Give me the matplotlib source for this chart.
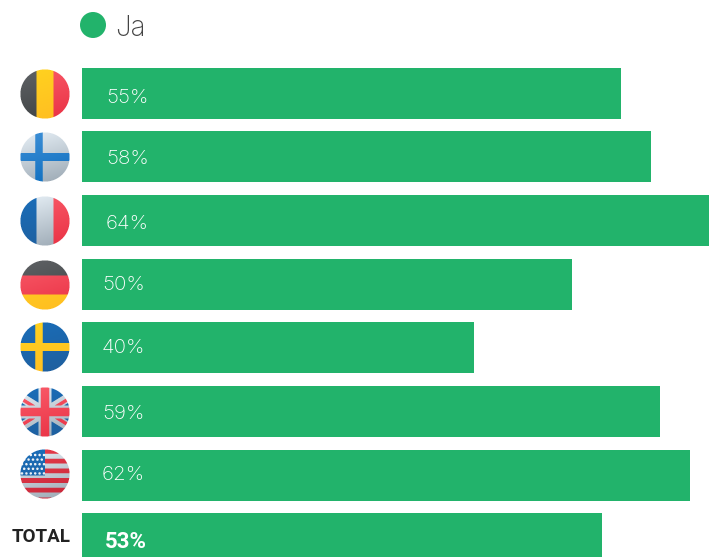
import matplotlib
matplotlib.use("Agg")
import matplotlib.pyplot as plt
import numpy as np
from matplotlib.patches import Circle

countries = ["BE", "FI", "FR", "DE", "SE", "UK", "US", "TOTAL"]
ja_share = [55, 58, 64, 50, 40, 59, 62, 53]
value_labels = ["55%", "58%", "64%", "50%", "40%", "59%", "62%", "53%"]
legend_label = "Ja"
total_label = "TOTAL"

W, H = 709, 557
GREEN = "#22b36b"
PX_PER_PCT = 9.805
BAR_LEFT = 82
row_tops = [68, 131, 195, 259, 322, 386, 450, 513]
label_x = [106, 106, 106, 102, 102, 102, 102, 105]
label_y = [96, 157, 222, 283, 346, 412, 473, 539]
flag_y = [94, 157, 221, 285, 347, 412, 474]
LABEL_FONT = "Inter"

fig = plt.figure(figsize=(W / 100, H / 100), dpi=100, facecolor="white")

# Bars live on value axes whose zero sits at the left edge of the bars.
ax = fig.add_axes([0, 0, 1, 1])
ax.set_xlim(-BAR_LEFT / PX_PER_PCT, (W - BAR_LEFT) / PX_PER_PCT)
ax.set_ylim(H, 0)
ax.axis("off")
for top, val in zip(row_tops, ja_share):
    ax.barh(top + 25.5, val, height=51, left=0, color=GREEN, linewidth=0)

# Overlay in pixel units for the labels, legend and round flags.
ov = fig.add_axes([0, 0, 1, 1], facecolor="none")
ov.axis("off")

for x, y, txt, cc in zip(label_x, label_y, value_labels, countries):
    if cc == "TOTAL":
        ov.text(x, y, txt, color="white", fontsize=16, va="center_baseline", ha="left",
                fontweight="bold", family="Roboto")
    else:
        ov.text(x, y, txt, color="white", fontsize=14.8, va="center_baseline", ha="left",
                fontweight="light", family=LABEL_FONT)

ov.add_patch(Circle((93, 25), 13, color=GREEN, lw=0))
ov.text(115, 25, legend_label, color="#444444", fontsize=20, va="center_baseline",
        ha="left", fontweight="light", family=LABEL_FONT)
ov.text(70.5, 537, total_label, color="#222222", fontsize=13.5, va="center",
        ha="right", fontweight="bold", family="Roboto")

# Flags are painted on a supersampled grid, each colour carrying its own
# top-to-bottom gradient, then reduced to one pixel per cell.
SS = 4
R = 25
grid = (np.arange(2 * R * SS) + 0.5) / SS - R
X, Y = np.meshgrid(grid, grid)
T = np.clip((0.85 * Y + 0.25 * X + R) / (2 * R), 0, 1)[..., None]

DARK = ("#5e6164", "#3f4244")
YELLOW = ("#ffd21f", "#ffbe22")
RED = ("#f95a68", "#ea3346")
DEEP_RED = ("#e63c4c", "#c9283a")
BLUE = ("#1a6db8", "#1f5f9e")
PALE = ("#e4edf4", "#9eabb6")
CROSS = ("#3d8fd6", "#0f6fc0")


def rgb(hexcode):
    return np.array(matplotlib.colors.to_rgb(hexcode))


def paint(img, mask, pair):
    grad = rgb(pair[0]) * (1 - T) + rgb(pair[1]) * T
    img[mask] = grad[mask]


def flag_be(img):
    paint(img, X < -8.5, DARK)
    paint(img, (X >= -8.5) & (X < 8.5), YELLOW)
    paint(img, X >= 8.5, RED)


def flag_fi(img):
    paint(img, np.ones_like(X, bool), PALE)
    paint(img, np.abs(Y) < 4, CROSS)
    paint(img, np.abs(X + 6) < 3.7, CROSS)


def flag_fr(img):
    paint(img, X < -8.5, BLUE)
    paint(img, (X >= -8.5) & (X < 8.5), PALE)
    paint(img, X >= 8.5, RED)


def flag_de(img):
    paint(img, Y < -9.5, DARK)
    paint(img, (Y >= -9.5) & (Y < 9.5), RED)
    paint(img, Y >= 9.5, YELLOW)


def flag_se(img):
    paint(img, np.ones_like(X, bool), BLUE)
    paint(img, np.abs(Y) < 4, YELLOW)
    paint(img, np.abs(X + 6) < 3.7, YELLOW)


def flag_uk(img):
    paint(img, np.ones_like(X, bool), BLUE)
    slope = 0.62
    for sign in (1, -1):
        dist = np.abs(Y - sign * slope * X) / np.hypot(1, slope)
        paint(img, dist < 4.5, PALE)
    for sign in (1, -1):
        offset = (Y - sign * slope * X) * np.sign(X) * sign
        paint(img, (offset > -3.5) & (offset < 0.5), RED)
    paint(img, (np.abs(Y) < 6.5) | (np.abs(X) < 6.5), PALE)
    paint(img, (np.abs(Y) < 4.3) | (np.abs(X) < 4.3), RED)


def flag_us(img):
    paint(img, np.ones_like(X, bool), PALE)
    stripes = ((Y + 25) % 9.7) < 4.8
    paint(img, stripes, DEEP_RED)
    canton = (X < 0) & (Y < 1.5)
    paint(img, canton, BLUE)
    for r in range(5):
        for c in range(6):
            sx = -23 + c * 4.4 + (r % 2) * 2.2
            sy = -19 + r * 4.6
            paint(img, canton & (np.hypot(X - sx, Y - sy) < 1.25), ("#f2f6fa", "#dfe6ec"))


painters = [flag_be, flag_fi, flag_fr, flag_de, flag_se, flag_uk, flag_us]
disc_alpha = (np.hypot(X, Y) <= 24.6).astype(float)

for painter, cy in zip(painters, flag_y):
    canvas = np.ones(X.shape + (3,))
    painter(canvas)
    rgba = np.dstack([canvas, disc_alpha])
    # Premultiplied averaging keeps the disc edge clean after reduction.
    rgba[..., :3] *= rgba[..., 3:]
    small = rgba.reshape(2 * R, SS, 2 * R, SS, 4).mean(axis=(1, 3))
    small[..., :3] /= np.maximum(small[..., 3:], 1e-6)
    cx = 45
    ov.imshow(small, extent=(cx - R, cx + R, cy + R, cy - R), zorder=4,
              interpolation="nearest", aspect="auto")

ov.set_xlim(0, W)
ov.set_ylim(H, 0)
fig.savefig("out.png", dpi=100)
